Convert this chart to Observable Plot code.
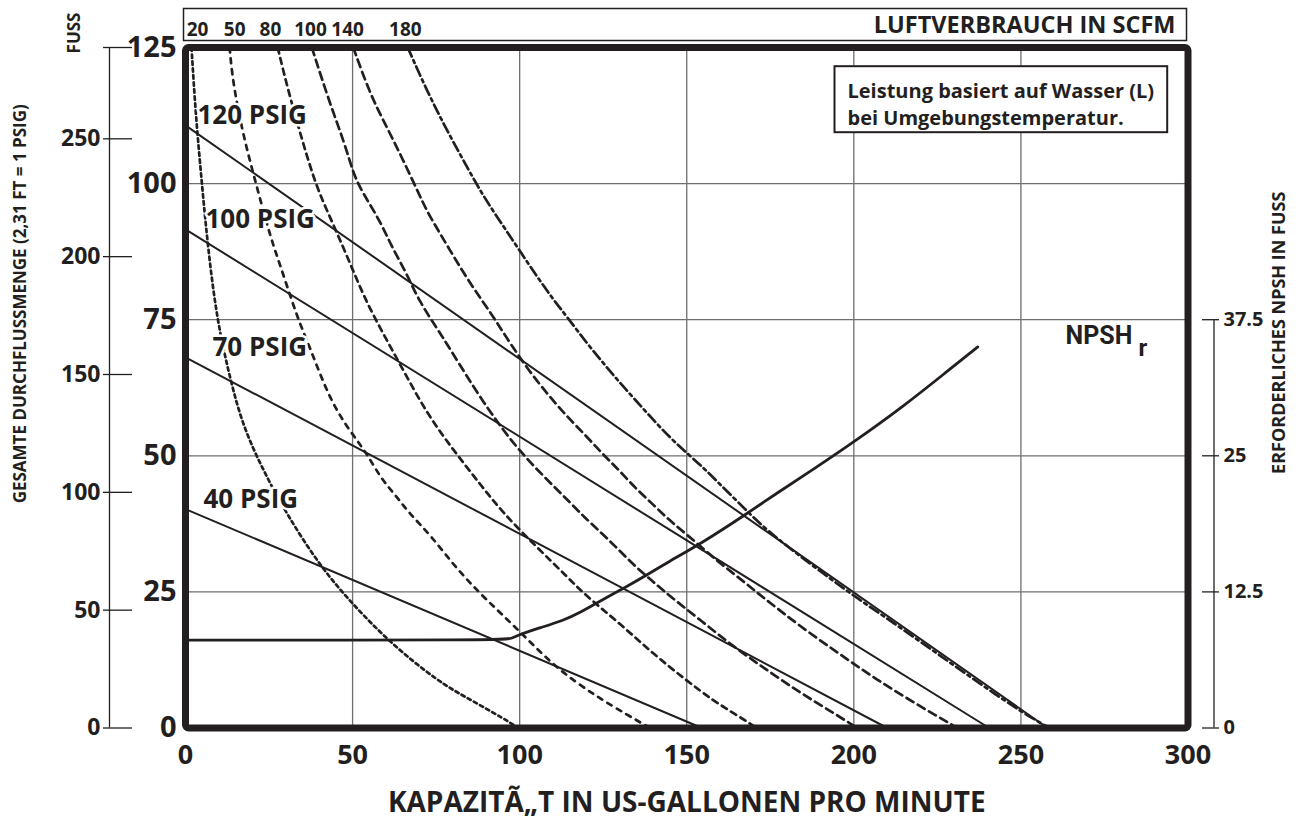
<!DOCTYPE html>
<html>
<head>
<meta charset="utf-8">
<script src="https://cdn.jsdelivr.net/npm/d3@7"></script>
<script src="https://cdn.jsdelivr.net/npm/@observablehq/plot@0.6"></script>
<style>
html,body{margin:0;padding:0;background:#fff;overflow:hidden;}
</style>
</head>
<body>
<div id="chart"></div>
<script>
// ---------------- data ----------------
const xTicks = [0, 50, 100, 150, 200, 250, 300];          // capacity, US gpm
const psigTicks = [0, 25, 50, 75, 100, 125];              // discharge pressure, psig
const feetTicks = [0, 50, 100, 150, 200, 250];            // total head, feet
const npshTicks = [0, 12.5, 25, 37.5];                    // NPSH required, feet
const FT_PER_PSIG = 2.31;
const PSIG_PER_NPSH_FT = 2;

// air inlet pressure lines [gpm, psig]
const psigNames = ["120 PSIG", "100 PSIG", "70 PSIG", "40 PSIG"];
const psig120 = [[0, 110.7], [258, 0]];
const psig100 = [[0, 91.6], [240.5, 0]];
const psig70  = [[0, 68.1], [210, 0]];
const psig40  = [[0, 40.2], [154.5, 0]];

// air consumption curves [gpm, psig]
const scfmNames = ["20", "50", "80", "100", "140", "180"];
const scfmLabelGpm = [3.6, 14.7, 25.4, 37.4, 48.5, 65.8];
const scfm20 = [[1.8,125],[3.0,113],[4.9,100],[6.7,88.3],[9.4,75],[13.2,64.5],[17.2,55.3],[23.7,46.8],
  [29.8,39.8],[39.9,30.0],[50,22.7],[61.7,15.4],[75.5,8.6],[84,5.6],[95.7,1.6],[99.5,0]];
const scfm50 = [[13.2,125],[14.1,118.9],[17.1,109.2],[21.6,98.8],[25.7,89.6],[28.2,85.3],[33.6,75.1],
  [37.2,70],[43.2,60.2],[49.7,54.1],[54.2,50.5],[58.5,45.8],[63.2,42.5],[67,39.4],[73.4,35.4],
  [80.9,29.4],[89.4,23.9],[100,17.8],[110.6,11.1],[123.4,5.6],[132,2.5],[139,0]];
const scfm80 = [[27.6,125],[30.2,118.3],[35.2,107.3],[39.2,99.4],[43.2,93.9],[47.2,88.3],[50.5,83.5],
  [54,78.5],[58.2,73.5],[65.2,65.7],[72.2,57.8],[80.2,51.0],[88.3,44.7],[94.7,39.7],[105.3,33.1],
  [114.2,27.8],[119.6,24.4],[130,19.2],[140,13.6],[150,8.7],[158,5.0],[164.1,2.7],[171,0]];
const scfm100 = [[37.8,125],[43.2,114.7],[47.7,107.3],[50.2,101.8],[53.2,98.1],[58.2,93.2],[61.7,88.4],
  [66.2,83.5],[69.7,78.6],[76.2,72.5],[78.2,70.6],[89.2,59.6],[100.2,50.4],[114.2,42.0],[119.2,38.8],
  [124.7,35.7],[129.7,32.7],[134.7,29.6],[139.7,27.0],[144.2,24.6],[154.1,19.8],[164.1,14.9],
  [174.1,10.6],[184.1,6.4],[194.1,2.7],[201,0]];
const scfm140 = [[50.2,125],[55.2,116.5],[59.7,111],[64.2,105.5],[68.2,100.3],[71.2,96.3],[73.2,93.9],
  [79.2,87.7],[85.2,81.6],[92.2,75.5],[95.2,72.5],[103.2,65.1],[113.2,57.8],[119.2,54.1],[124.7,50.4],
  [129.7,47.4],[134.7,44],[139.7,41.2],[144.7,38.2],[149.7,35.7],[155.2,32.8],[159.7,30.4],[165.2,27.8],
  [170.2,25.3],[174.1,23.4],[184.1,18.6],[194.1,14.3],[204.1,10],[214.1,6.1],[225.1,2.1],[231,0]];
const scfm180 = [[66.5,125],[72.2,117.1],[78.2,109.8],[84.2,103.1],[89.2,97.6],[95.2,92.1],[100.2,87.5],
  [105.2,82.9],[110.2,78.6],[114.2,75.5],[120.2,70.6],[125.2,66.9],[129.7,63.6],[134.7,60.2],[139.7,56.8],
  [144.7,53.5],[150.2,50.4],[155.2,47.7],[159.7,44.9],[164.7,41.9],[169.7,38.8],[174.2,36.3],[180.2,33.3],
  [189.7,28.9],[199.7,24.4],[210,20.1],[220,15.8],[230,11.5],[240,7.2],[250,3.0],[258.5,0]];

// NPSH required [gpm, feet]
const npshr = [[0,8.07],[94.7,8.07],[97.5,8.2],[100,8.6],[106,9.2],[113.3,9.9],[118,10.6],[123.1,11.5],
  [132.1,13.0],[138.3,14.1],[144.1,15.2],[154.1,16.9],[168.1,19.7],[176.1,21.4],[188.1,23.8],
  [199.7,26.2],[215.1,29.6],[228.1,32.8],[237.1,35.0]];

// texts
const xTitle = "KAPAZITÃ„T IN US-GALLONEN PRO MINUTE";
const yTitle = "GESAMTE DURCHFLUSSMENGE (2,31 FT = 1 PSIG)";
const yUnit = "FUSS";
const npshTitle = "ERFORDERLICHES NPSH IN FUSS";
const airTitle = "LUFTVERBRAUCH IN SCFM";
const noteText = "Leistung basiert auf Wasser (L)\nbei Umgebungstemperatur.";

// ---------------- layout / styles ----------------
const INK = "#231f20", GRID = "#6d6e71";
const FONT = "'Open Sans','Noto Sans','DejaVu Sans',sans-serif";
const psigLabelDx = [12, 20, 27, 18];
const scfmDash = ["3.5,3.5", "5,6", "6,5", "8,5", "8,5", "10,4,3,4"];

const psigLines = [psig120, psig100, psig70, psig40];
const scfmCurves = [scfm20, scfm50, scfm80, scfm100, scfm140, scfm180];
const psigTable = psigNames.flatMap((name, i) => psigLines[i].map(([q, p]) => ({name, q, p})));
const scfmLabels = scfmNames.map((name, i) => ({name, q: scfmLabelGpm[i]}));
const B = {fontWeight: 700, fill: INK};

const plot = Plot.plot({
  width: 1301, height: 818,
  marginLeft: 185, marginRight: 113.5, marginTop: 47, marginBottom: 90.5,
  style: {fontFamily: FONT, background: "#fff", overflow: "visible"},
  x: {domain: [0, 300], axis: null},
  y: {domain: [0, 125], axis: null},
  marks: [
    Plot.ruleX(xTicks.filter(v => v > 0 && v < 300), {stroke: GRID, strokeWidth: 1.3}),
    Plot.ruleY(psigTicks.filter(v => v > 0 && v < 125), {stroke: GRID, strokeWidth: 1.3}),
    ...scfmCurves.map((c, i) => Plot.line(c, {x: d => d[0], y: d => d[1], curve: "basis",
      stroke: INK, strokeWidth: 2.7, strokeDasharray: scfmDash[i]})),
    Plot.line(psigTable, {x: "q", y: "p", z: "name", stroke: INK, strokeWidth: 2}),
    Plot.line(npshr, {x: d => d[0], y: d => d[1] * PSIG_PER_NPSH_FT, curve: "basis", stroke: INK, strokeWidth: 2.8}),
    // header box
    Plot.frame({insetTop: -39, insetBottom: 687.5, insetLeft: -2, insetRight: 1.5, stroke: INK, strokeWidth: 1.5, fill: "none"}),
    // note box
    Plot.frame({insetLeft: 649, insetRight: 20.8, insetTop: 18.7, insetBottom: 595.8, fill: "white", stroke: INK, strokeWidth: 2}),
    Plot.frame({stroke: INK, strokeWidth: 7, rx: 3}),
    Plot.text([noteText], {text: d => d, frameAnchor: "top-right", textAnchor: "start", lineAnchor: "top",
      dx: -340.5, dy: 31, fontSize: 20, lineHeight: 1.35, ...B}),
    Plot.text(scfmLabels, {x: "q", text: "name", frameAnchor: "top", dy: -18, textAnchor: "middle", lineAnchor: "middle", fontSize: 19, ...B}),
    Plot.text([airTitle], {text: d => d, frameAnchor: "top-right", dx: -12.5, dy: -22, textAnchor: "end", lineAnchor: "middle", fontSize: 23.5, ...B}),
    ...psigNames.map((name, i) => Plot.text([{name, q: psigLines[i][0][0], p: psigLines[i][0][1]}], {
      x: "q", y: "p", text: "name", dx: psigLabelDx[i], dy: -1, textAnchor: "start", lineAnchor: "bottom",
      fontSize: 26, stroke: "white", strokeWidth: 5, paintOrder: "stroke", ...B})),
    Plot.text(["NPSH"], {text: d => d, frameAnchor: "top-right", dx: -122.5, dy: 296, textAnchor: "start", lineAnchor: "bottom",
      fontSize: 25, fontFamily: "Roboto, 'Liberation Sans', sans-serif", ...B}),
    Plot.text(["r"], {text: d => d, frameAnchor: "top-right", dx: -49.5, dy: 308, textAnchor: "start", lineAnchor: "bottom",
      fontSize: 24, fontFamily: "Roboto, 'Liberation Sans', sans-serif", ...B}),
    // axes
    Plot.axisX(xTicks, {anchor: "bottom", tickSize: 0, tickPadding: 17, fontSize: 27, fontWeight: 700, color: INK, label: null}),
    Plot.axisY(psigTicks, {anchor: "left", tickSize: 0, tickPadding: 9, fontSize: 29, fontWeight: 700, color: INK, label: null}),
    Plot.axisY(feetTicks.map(f => f / FT_PER_PSIG), {anchor: "left", tickFormat: d => String(Math.round(d * FT_PER_PSIG)),
      dx: -53, tickSize: 29, tickPadding: 3, fontSize: 23, fontWeight: 700, color: INK, strokeWidth: 1.3, label: null}),
    Plot.axisY([125], {anchor: "left", tickFormat: () => "", dx: -53, tickSize: 29, color: INK, strokeWidth: 1.3, label: null}),
    Plot.ruleX([0], {y1: 0, y2: 125, dx: -76, stroke: INK, strokeWidth: 1.3}),
    Plot.axisY(npshTicks.map(v => v * PSIG_PER_NPSH_FT), {anchor: "right", tickFormat: d => String(d / PSIG_PER_NPSH_FT),
      dx: 13.5, tickSize: 17, tickPadding: 5, fontSize: 20, fontWeight: 700, color: INK, strokeWidth: 1.3, label: null}),
    Plot.ruleX([300], {y1: 0, y2: npshTicks[npshTicks.length - 1] * PSIG_PER_NPSH_FT, dx: 26, stroke: INK, strokeWidth: 1.3}),
    // titles
    Plot.text([yTitle], {text: d => d, frameAnchor: "left", rotate: -90, dx: -165, dy: -84, textAnchor: "middle", lineAnchor: "middle", fontSize: 17, ...B}),
    Plot.text([yUnit], {text: d => d, frameAnchor: "top-left", rotate: -90, dx: -110.5, dy: -14.5, textAnchor: "middle", lineAnchor: "middle", fontSize: 17, ...B}),
    Plot.text([npshTitle], {text: d => d, frameAnchor: "right", rotate: -90, dx: 91.5, dy: -55, textAnchor: "middle", lineAnchor: "middle", fontSize: 18, ...B}),
    Plot.text([xTitle], {text: d => d, frameAnchor: "bottom", dy: 75.5, textAnchor: "middle", lineAnchor: "middle", fontSize: 28, ...B})
  ]
});
document.getElementById("chart").append(plot);
</script>
</body>
</html>
